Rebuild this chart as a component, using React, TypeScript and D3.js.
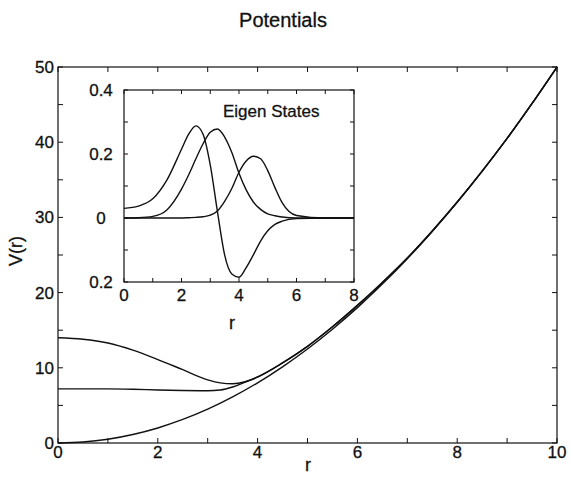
import React from "react";
import * as d3 from "d3";

// ---- Main plot data ----
const rBare = [0, 0.5, 1, 1.5, 2, 2.5, 3, 3.5, 4, 4.5, 5, 5.5, 6, 6.5, 7, 7.5, 8, 8.5, 9, 9.5, 10];
const vBare = [0, 0.13, 0.5, 1.13, 2, 3.13, 4.5, 6.13, 8, 10.13, 12.5, 15.13, 18, 21.13, 24.5, 28.13, 32, 36.13, 40.5, 45.13, 50];

const rEff = [0, 0.5, 1, 1.5, 2, 2.5, 3, 3.25, 3.5, 3.75, 4, 4.5, 5, 5.5, 6, 6.5, 7, 7.5, 8, 8.5, 9, 9.5, 10];
const vUpper = [14.0, 13.8, 13.3, 12.35, 11.1, 9.75, 8.4, 8.0, 7.88, 8.15, 8.8, 10.65, 12.85, 15.45, 18.3, 21.35, 24.6, 28.2, 32.05, 36.15, 40.5, 45.15, 50];
const vMiddle = [7.2, 7.2, 7.2, 7.15, 7.05, 6.98, 6.95, 7.05, 7.45, 8.1, 8.75, 10.65, 12.85, 15.45, 18.3, 21.35, 24.6, 28.2, 32.05, 36.15, 40.5, 45.15, 50];

// ---- Inset data (eigen states) ----
const rInset = [0, 0.5, 1, 1.5, 2, 2.25, 2.5, 2.75, 3, 3.25, 3.5, 3.75, 4, 4.25, 4.5, 4.75, 5, 5.25, 5.5, 6, 7, 8];
const psiA = [0.03, 0.037, 0.06, 0.12, 0.215, 0.262, 0.288, 0.262, 0.166, 0.02, -0.115, -0.175, -0.185, -0.155, -0.115, -0.072, -0.04, -0.02, -0.01, -0.002, 0, 0];
const psiB = [0, 0.001, 0.005, 0.026, 0.09, 0.135, 0.185, 0.232, 0.268, 0.278, 0.253, 0.205, 0.14, 0.088, 0.05, 0.027, 0.013, 0.007, 0.003, 0, 0, 0];
const psiC = [0, 0, 0, 0, 0, 0.001, 0.002, 0.004, 0.009, 0.022, 0.052, 0.092, 0.143, 0.178, 0.193, 0.185, 0.148, 0.095, 0.048, 0.008, 0, 0];

// ---- Ticks ----
const mainXTicks = [0, 2, 4, 6, 8, 10];
const mainXMinor = [1, 3, 5, 7, 9];
const mainYTicks = [0, 10, 20, 30, 40, 50];
const mainYMinor = [5, 15, 25, 35, 45];
const insetXTicks = [0, 2, 4, 6, 8];
const insetXMinor = [1, 3, 5, 7];
const insetYTicks = [0.4, 0.2, 0, -0.2];
const insetYTickLabels = ["0.4", "0.2", "0", "0.2"];
const insetYMinor = [0.3, 0.1, -0.1];

const FONT = "'Liberation Sans', Arial, Helvetica, sans-serif";
const INK = "#111";
const TXT = { fill: INK, stroke: INK, strokeWidth: 0.3 };

export default function App() {
  const x = d3.scaleLinear().domain([0, 10]).range([58, 557]);
  const y = d3.scaleLinear().domain([0, 50]).range([443, 67]);
  const ix = d3.scaleLinear().domain([0, 8]).range([124, 354]);
  const iy = d3.scaleLinear().domain([-0.2, 0.4]).range([282, 90]);

  const mainLine = (rs: number[]) =>
    d3
      .line<number>()
      .x((_, i) => x(rs[i]))
      .y((d) => y(d))
      .curve(d3.curveMonotoneX);
  const insetLine = d3
    .line<number>()
    .x((_, i) => ix(rInset[i]))
    .y((d) => iy(d))
    .curve(d3.curveMonotoneX);

  const [x0, x1] = x.range();
  const [y0, y1] = y.range();
  const [ix0, ix1] = ix.range();
  const [iy0, iy1] = iy.range();
  const T = 5;
  const TI = 4;

  return (
    <svg
      width={572}
      height={477}
      style={{ position: "absolute", left: 0, top: 0, background: "#fff" }}
      fontFamily={FONT}
    >
      <rect x={0} y={0} width={572} height={477} fill="#fff" />
      <text x={283} y={27} fontSize={20} textAnchor="middle" {...TXT}>
        Potentials
      </text>

      {/* main frame */}
      <rect x={x0} y={y1} width={x1 - x0} height={y0 - y1} fill="none" stroke={INK} strokeWidth={1.2} />
      {[...mainXTicks, ...mainXMinor].map((t) => (
        <g key={"mx" + t}>
          <line x1={x(t)} x2={x(t)} y1={y0} y2={y0 - T} stroke={INK} />
          <line x1={x(t)} x2={x(t)} y1={y1} y2={y1 + T} stroke={INK} />
        </g>
      ))}
      {[...mainYTicks, ...mainYMinor].map((t) => (
        <g key={"my" + t}>
          <line x1={x0} x2={x0 + T} y1={y(t)} y2={y(t)} stroke={INK} />
          <line x1={x1} x2={x1 - T} y1={y(t)} y2={y(t)} stroke={INK} />
        </g>
      ))}
      {mainXTicks.map((t) => (
        <text key={"mxl" + t} x={x(t)} y={y0 + 15} fontSize={17} textAnchor="middle" {...TXT}>
          {t}
        </text>
      ))}
      {mainYTicks.map((t) => (
        <text key={"myl" + t} x={x0 - 4} y={y(t) + 6} fontSize={17} textAnchor="end" {...TXT}>
          {t}
        </text>
      ))}
      <text x={308} y={471} fontSize={18} textAnchor="middle" {...TXT}>
        r
      </text>
      <text transform={`translate(22,251) rotate(-90)`} fontSize={18} textAnchor="middle" {...TXT}>
        V(r)
      </text>

      {/* main curves */}
      <path d={mainLine(rBare)(vBare) || ""} fill="none" stroke={INK} strokeWidth={1.4} />
      <path d={mainLine(rEff)(vUpper) || ""} fill="none" stroke={INK} strokeWidth={1.4} />
      <path d={mainLine(rEff)(vMiddle) || ""} fill="none" stroke={INK} strokeWidth={1.4} />

      {/* inset */}
      <rect x={ix0} y={iy1} width={ix1 - ix0} height={iy0 - iy1} fill="#fff" stroke={INK} strokeWidth={1.2} />
      {[...insetXTicks, ...insetXMinor].map((t) => (
        <g key={"ix" + t}>
          <line x1={ix(t)} x2={ix(t)} y1={iy0} y2={iy0 - TI} stroke={INK} />
          <line x1={ix(t)} x2={ix(t)} y1={iy1} y2={iy1 + TI} stroke={INK} />
        </g>
      ))}
      {[...insetYTicks, ...insetYMinor].map((t) => (
        <g key={"iy" + t}>
          <line x1={ix0} x2={ix0 + TI} y1={iy(t)} y2={iy(t)} stroke={INK} />
          <line x1={ix1} x2={ix1 - TI} y1={iy(t)} y2={iy(t)} stroke={INK} />
        </g>
      ))}
      {insetXTicks.map((t) => (
        <text key={"ixl" + t} x={ix(t)} y={iy0 + 19} fontSize={17} textAnchor="middle" {...TXT}>
          {t}
        </text>
      ))}
      {insetYTicks.map((t, i) => (
        <text key={"iyl" + t} x={101} y={iy(t) + 6} fontSize={17} textAnchor="middle" {...TXT}>
          {insetYTickLabels[i]}
        </text>
      ))}
      <text x={232} y={329} fontSize={18} textAnchor="middle" {...TXT}>
        r
      </text>
      <text x={223} y={117} fontSize={17} {...TXT}>
        Eigen States
      </text>

      <path d={insetLine(psiA) || ""} fill="none" stroke={INK} strokeWidth={1.4} />
      <path d={insetLine(psiB) || ""} fill="none" stroke={INK} strokeWidth={1.4} />
      <path d={insetLine(psiC) || ""} fill="none" stroke={INK} strokeWidth={1.4} />
    </svg>
  );
}
